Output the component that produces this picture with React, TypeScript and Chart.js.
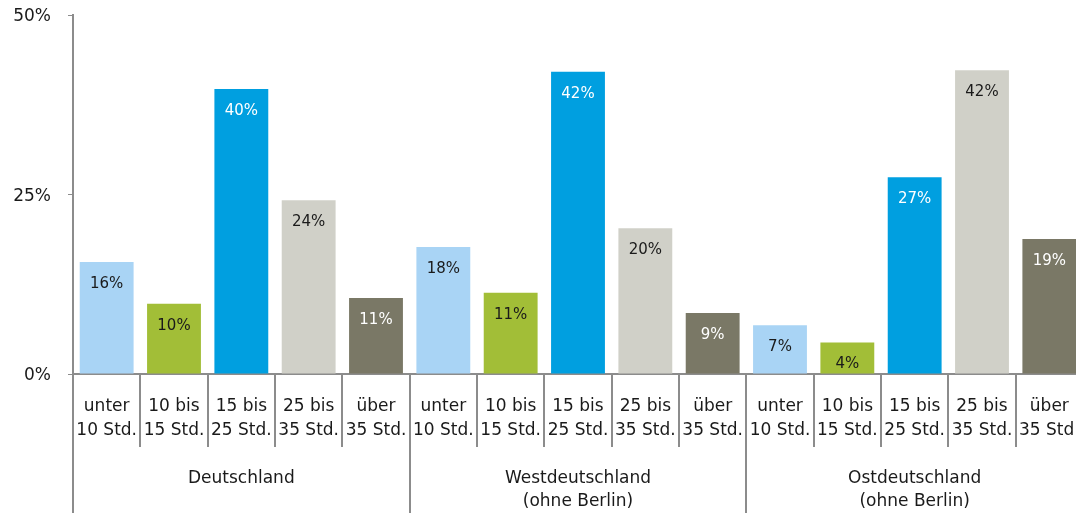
import React, { useEffect, useRef } from "react";
import { Chart, registerables } from "chart.js";

Chart.register(...registerables);

const categories: string[][] = [
  ["unter", "10 Std."],
  ["10 bis", "15 Std."],
  ["15 bis", "25 Std."],
  ["25 bis", "35 Std."],
  ["über", "35 Std."],
];

const groups: string[][] = [
  ["Deutschland"],
  ["Westdeutschland", "(ohne Berlin)"],
  ["Ostdeutschland", "(ohne Berlin)"],
];

const deutschland = [15.6, 9.8, 39.7, 24.2, 10.6];
const westdeutschland = [17.7, 11.3, 42.1, 20.3, 8.5];
const ostdeutschland = [6.8, 4.4, 27.4, 42.3, 18.8];

const yTicks = [0, 25, 50];

const categoryColors = ["#A9D4F5", "#A2BE37", "#009FE0", "#D0D0C8", "#7A7866"];
const labelColors = ["#1a1a1a", "#1a1a1a", "#ffffff", "#1a1a1a", "#ffffff"];

const FONT = "'DejaVu Sans', Verdana, sans-serif";
const AXIS_GRAY = "#8c8c8c";

export default function App() {
  const ref = useRef<HTMLCanvasElement | null>(null);

  useEffect(() => {
    document.body.style.margin = "0";
    const canvas = ref.current;
    if (!canvas) return;

    const seriesByGroup = [deutschland, westdeutschland, ostdeutschland];
    const labels: string[] = [];
    const data: number[] = [];
    const colors: string[] = [];
    seriesByGroup.forEach((vals, g) => {
      vals.forEach((v, c) => {
        labels.push(groups[g][0] + " " + categories[c].join(" "));
        data.push(v);
        colors.push(categoryColors[c]);
      });
    });

    const valueLabels = {
      id: "valueLabels",
      afterDatasetsDraw(chart: any) {
        const ctx = chart.ctx;
        const meta = chart.getDatasetMeta(0);
        ctx.save();
        ctx.font = `15px ${FONT}`;
        ctx.textAlign = "center";
        ctx.textBaseline = "middle";
        meta.data.forEach((el: any, i: number) => {
          const v = data[i];
          ctx.fillStyle = labelColors[i % categories.length];
          ctx.fillText(Math.round(v) + "%", el.x, el.y + 22);
        });
        ctx.restore();
      },
    };

    const xAxisLabels = {
      id: "xAxisLabels",
      afterDraw(chart: any) {
        const ctx = chart.ctx;
        const xs = chart.scales.x;
        const area = chart.chartArea;
        const bottom = area.bottom;
        const n = labels.length;
        const per = categories.length;
        const step = n > 1 ? xs.getPixelForValue(1) - xs.getPixelForValue(0) : area.right - area.left;
        ctx.save();
        ctx.strokeStyle = AXIS_GRAY;
        ctx.lineWidth = 2;
        for (let i = 0; i < n; i++) {
          const bx = Math.round(xs.getPixelForValue(i) - step / 2);
          const isGroup = i % per === 0;
          ctx.beginPath();
          ctx.moveTo(bx, bottom);
          ctx.lineTo(bx, isGroup ? chart.height : bottom + 73);
          ctx.stroke();
        }
        ctx.fillStyle = "#1a1a1a";
        ctx.font = `17px ${FONT}`;
        ctx.textAlign = "center";
        ctx.textBaseline = "middle";
        for (let i = 0; i < n; i++) {
          const cx = xs.getPixelForValue(i);
          const lines = categories[i % per];
          lines.forEach((t, k) => ctx.fillText(t, cx, bottom + 33 + k * 24));
        }
        for (let g = 0; g < groups.length; g++) {
          const first = xs.getPixelForValue(g * per);
          const last = xs.getPixelForValue(g * per + per - 1);
          const cx = (first + last) / 2;
          groups[g].forEach((t, k) => ctx.fillText(t, cx, bottom + 105 + k * 23));
        }
        ctx.restore();
      },
    };

    const chart = new Chart(canvas, {
      type: "bar",
      data: {
        labels,
        datasets: [
          {
            data,
            backgroundColor: colors,
            borderWidth: 0,
            barPercentage: 0.8,
            categoryPercentage: 1,
          },
        ],
      },
      options: {
        responsive: false,
        animation: false,
        layout: { padding: { top: 15, left: 0, right: 0, bottom: 139 } },
        plugins: {
          legend: { display: false },
          tooltip: { enabled: false },
          title: { display: false },
        },
        scales: {
          x: {
            offset: true,
            grid: { display: true, drawOnChartArea: false, drawTicks: false },
            border: { display: true, color: AXIS_GRAY, width: 2 },
            ticks: { display: false },
            afterFit: (scale: any) => {
              scale.paddingLeft = 0;
              scale.paddingRight = 0;
            },
          },
          y: {
            min: 0,
            max: 50,
            afterBuildTicks: (scale: any) => {
              scale.ticks = yTicks.map((v) => ({ value: v }));
            },
            afterFit: (scale: any) => {
              scale.width = 73;
              scale.paddingTop = 0;
              scale.paddingBottom = 0;
            },
            ticks: {
              callback: (v: any) => v + "%",
              font: { family: FONT, size: 17 },
              color: "#1a1a1a",
              padding: 17,
              labelOffset: 2,
            },
            grid: { display: true, drawOnChartArea: false, drawTicks: true, tickLength: 5, color: AXIS_GRAY, lineWidth: 1 },
            border: { display: true, color: AXIS_GRAY, width: 2 },
          },
        },
      },
      plugins: [valueLabels, xAxisLabels],
    });

    return () => chart.destroy();
  }, []);

  return (
    <div style={{ width: 1076, height: 513, overflow: "hidden" }}>
      <canvas ref={ref} width={1083} height={513} style={{ display: "block" }} />
    </div>
  );
}
